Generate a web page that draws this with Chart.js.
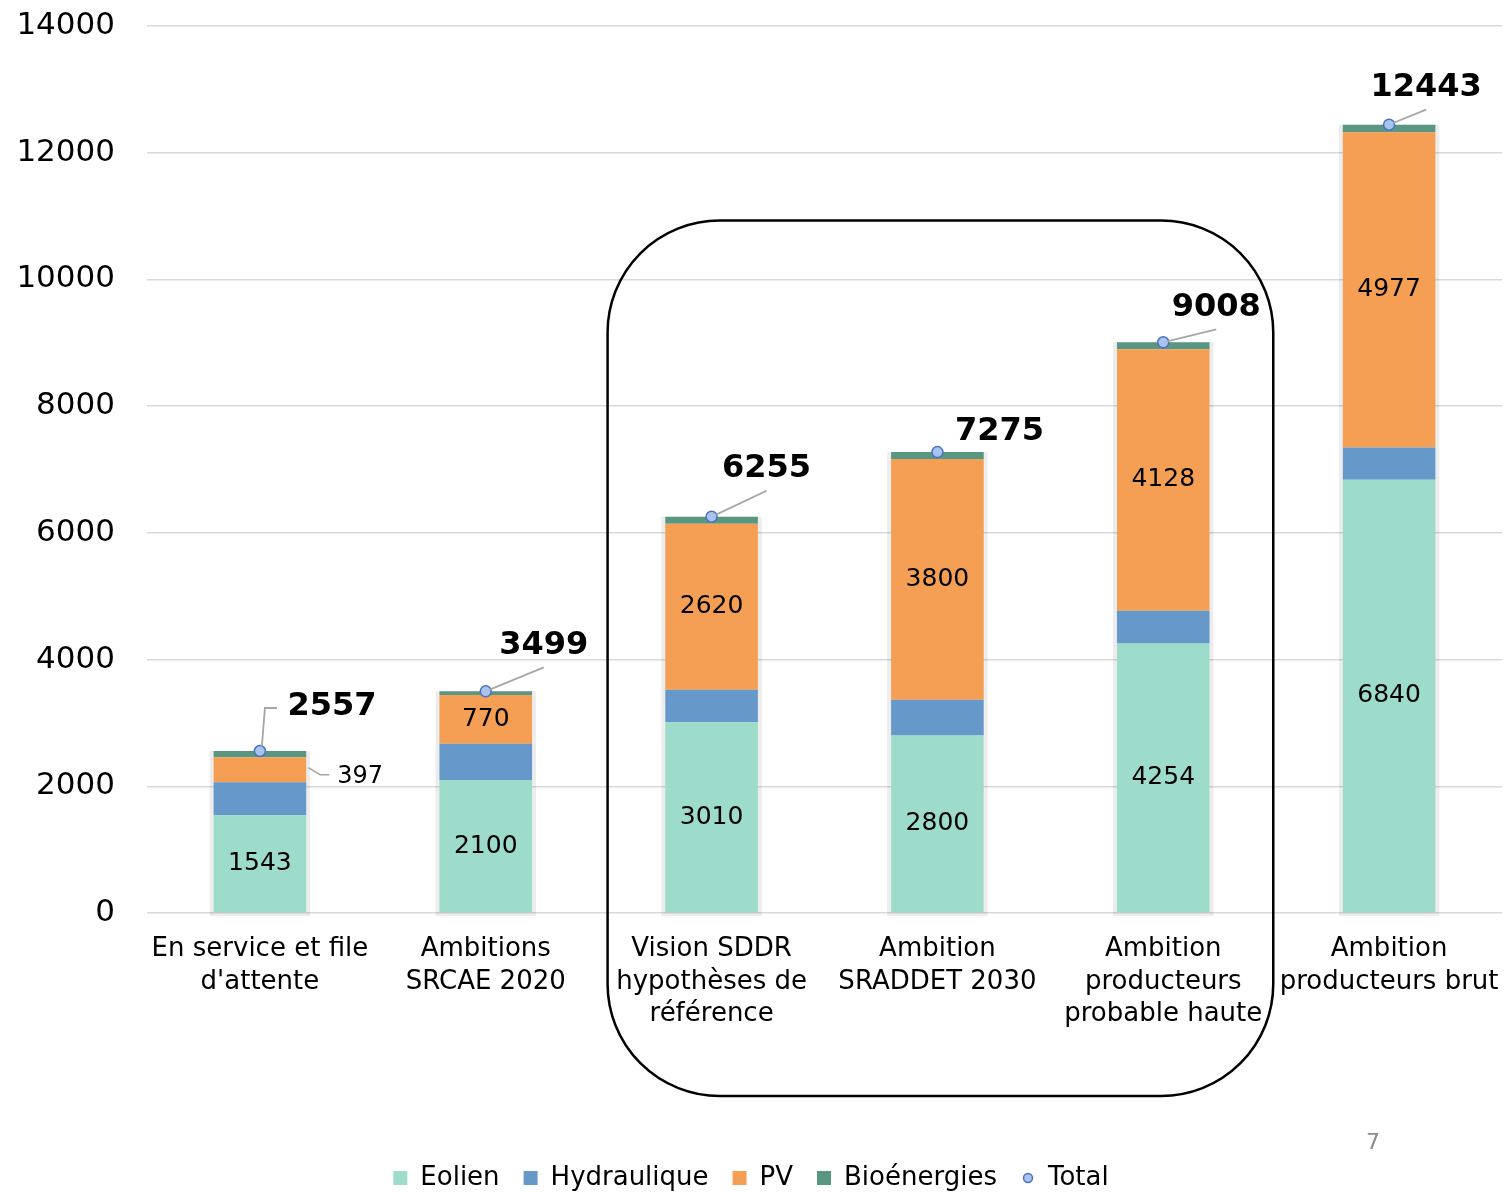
<!DOCTYPE html>
<html>
<head>
<meta charset="utf-8">
<script src="https://cdn.jsdelivr.net/npm/chart.js@4.4.0/dist/chart.umd.min.js"></script>
<style>
  html, body { margin: 0; padding: 0; background: #fff; overflow: hidden; }
  #wrap { position: relative; width: 1509px; height: 1205px; }
  #pg { position: absolute; left: 1366px; top: 1129px; font: 22px 'DejaVu Sans'; color: #8c8c8c; }
</style>
</head>
<body>
<div id="wrap"><canvas id="c"></canvas><div id="pg">7</div></div>
<script>
// categories and values (MW)
const categories = [
  ['En service et file', "d'attente"],
  ['Ambitions', 'SRCAE 2020'],
  ['Vision SDDR', 'hypothèses de', 'référence'],
  ['Ambition', 'SRADDET 2030'],
  ['Ambition', 'producteurs', 'probable haute'],
  ['Ambition', 'producteurs brut']
];
const eolien = [1543, 2100, 3010, 2800, 4254, 6840];
const hydraulique = [520, 570, 515, 565, 517, 506];
const pv = [397, 770, 2620, 3800, 4128, 4977];
const bioenergies = [97, 59, 110, 110, 109, 120];
const total = [2557, 3499, 6255, 7275, 9008, 12443];
const yTicks = [0, 2000, 4000, 6000, 8000, 10000, 12000, 14000];

// where the bold total labels sit relative to their point (px)
const totDx = [72, 58, 55, 62, 53, 37];
const totDy = [-44, -46, -48, -20, -35, -37];

const FONT = "'DejaVu Sans', Verdana, sans-serif";

// small round marker for the Total legend entry
const dot = document.createElement('canvas');
dot.width = 14; dot.height = 14;
(function () {
  const g = dot.getContext('2d');
  g.beginPath(); g.arc(7, 7, 4.5, 0, Math.PI * 2);
  g.fillStyle = '#a9c2ee'; g.fill();
  g.lineWidth = 1.5; g.strokeStyle = '#4a72c0'; g.stroke();
})();

const extras = {
  id: 'extras',
  beforeDatasetsDraw(chart) {
    const ctx = chart.ctx, y = chart.scales.y;
    const meta = chart.getDatasetMeta(0);
    ctx.save();
    ctx.fillStyle = 'rgba(0,0,0,0.07)';
    meta.data.forEach((bar, i) => {
      const top = y.getPixelForValue(total[i]);
      const bottom = y.getPixelForValue(0);
      ctx.fillRect(bar.x - bar.width / 2 - 4, top, bar.width + 8, bottom - top + 3);
    });
    ctx.restore();
  },
  afterDatasetsDraw(chart) {
    const ctx = chart.ctx, x = chart.scales.x, y = chart.scales.y;
    ctx.save();
    ctx.fillStyle = '#000';
    ctx.textAlign = 'center';
    ctx.textBaseline = 'middle';
    ctx.font = '25px ' + FONT;
    // values inside the segments
    chart.getDatasetMeta(0).data.forEach((bar, i) => {
      ctx.fillText(eolien[i], bar.x, (bar.y + bar.base) / 2);
    });
    chart.getDatasetMeta(2).data.forEach((bar, i) => {
      const cy = (bar.y + bar.base) / 2;
      if (i === 0) {
        const r = bar.x + bar.width / 2;
        ctx.strokeStyle = '#a6a6a6'; ctx.lineWidth = 1.5;
        ctx.beginPath(); ctx.moveTo(r + 2, cy - 2); ctx.lineTo(r + 14, cy + 5); ctx.lineTo(r + 23, cy + 5); ctx.stroke();
        ctx.font = '24px ' + FONT;
        ctx.textAlign = 'left';
        ctx.fillText(pv[i], r + 31, cy + 7);
        ctx.textAlign = 'center';
        ctx.font = '25px ' + FONT;
      } else {
        ctx.fillText(pv[i], bar.x, cy);
      }
    });
    // totals
    const pts = chart.getDatasetMeta(4).data;
    ctx.strokeStyle = '#a6a6a6'; ctx.lineWidth = 1.8;
    pts.forEach((p, i) => {
      const lx = p.x + totDx[i], ly = p.y + totDy[i];
      ctx.beginPath();
      if (i === 0) {
        ctx.moveTo(p.x + 2, p.y - 5); ctx.lineTo(p.x + 5, ly + 1); ctx.lineTo(p.x + 17, ly + 1);
      } else if (i !== 3) {
        const ang = Math.atan2(ly + 22 - p.y, lx - p.x);
        ctx.moveTo(p.x + 5 * Math.cos(ang), p.y + 5 * Math.sin(ang));
        ctx.lineTo(lx, ly + 22);
      }
      ctx.stroke();
      ctx.font = 'bold 32px ' + FONT;
      ctx.fillText(total[i], lx, ly);
    });
    // rounded frame around the three middle scenarios
    const left = x.getPixelForValue(2) - 104;
    const right = x.getPixelForValue(4) + 110;
    const top = y.getPixelForValue(10930);
    const bottom = chart.chartArea.bottom + 183;
    ctx.beginPath();
    ctx.roundRect(left, top, right - left, bottom - top, 112);
    ctx.lineWidth = 2.5; ctx.strokeStyle = '#000';
    ctx.stroke();
    ctx.restore();
  }
};

const barDs = (label, data, color) => ({
  type: 'bar', label, data, backgroundColor: color, borderWidth: 0,
  stack: 'mix', order: 2, barPercentage: 0.41, categoryPercentage: 1
});

new Chart(document.getElementById('c'), {
  data: {
    labels: categories,
    datasets: [
      barDs('Eolien', eolien, '#9ddcca'),
      barDs('Hydraulique', hydraulique, '#6699c9'),
      barDs('PV', pv, '#f59f54'),
      barDs('Bioénergies', bioenergies, '#5a9783'),
      {
        type: 'line', label: 'Total', data: total, stack: 'tot', order: 1,
        showLine: false, pointRadius: 5.5, pointBackgroundColor: '#a9c2ee',
        pointBorderColor: '#4a72c0', pointBorderWidth: 1.5
      }
    ]
  },
  options: {
    responsive: true,
    maintainAspectRatio: false,
    animation: false,
    devicePixelRatio: 1,
    layout: { padding: { top: 26, right: 7, bottom: 4, left: 0 } },
    scales: {
      x: {
        stacked: true,
        grid: { display: false, drawTicks: false },
        border: { display: false },
        ticks: { color: '#000', padding: 20, maxRotation: 0, autoSkip: false,
                 font: { family: FONT, size: 26, lineHeight: 1.25 } },
        afterFit(s) { s.height = 228; s.paddingLeft = 0; s.paddingRight = 0; }
      },
      y: {
        stacked: true,
        min: 0, max: 14000,
        afterBuildTicks(s) { s.ticks = yTicks.map(v => ({ value: v })); },
        grid: { color: '#d9d9d9', lineWidth: 1.5, drawTicks: false },
        border: { display: false },
        ticks: { color: '#000', padding: 32, font: { family: FONT, size: 31 },
                 callback: v => String(v) },
        afterFit(s) { s.width = 147; s.paddingTop = 0; s.paddingBottom = 0; }
      }
    },
    plugins: {
      tooltip: { enabled: false },
      legend: {
        position: 'bottom',
        labels: {
          usePointStyle: true, boxWidth: 14, boxHeight: 14, padding: 24,
          color: '#000', font: { family: FONT, size: 26 },
          generateLabels(chart) {
            const items = Chart.defaults.plugins.legend.labels.generateLabels(chart);
            items.forEach(it => { it.pointStyle = it.datasetIndex === 4 ? dot : 'rect'; it.lineWidth = 0; });
            items.sort((a, b) => a.datasetIndex - b.datasetIndex);
            return items;
          }
        }
      }
    }
  },
  plugins: [extras]
});
</script>
</body>
</html>
